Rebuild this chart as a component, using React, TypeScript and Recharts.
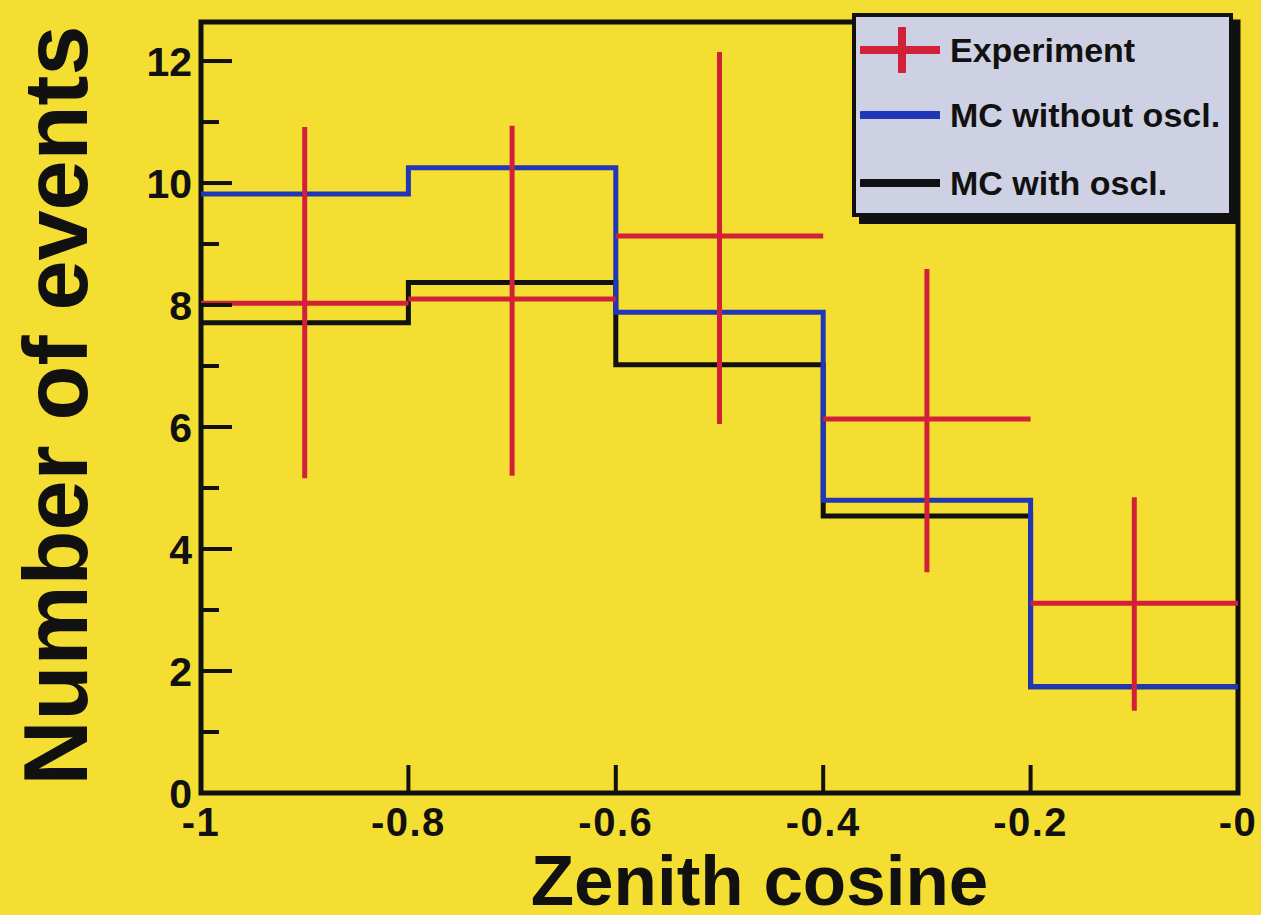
import React from "react"
import {
  ComposedChart,
  Line,
  Scatter,
  ErrorBar,
  XAxis,
  YAxis,
  ReferenceArea,
  Legend,
  Label,
} from "recharts"

// bins in zenith cosine
const binEdges = [-1, -0.8, -0.6, -0.4, -0.2, 0]
const binCenters = [-0.9, -0.7, -0.5, -0.3, -0.1]

// experiment with error ranges
const experiment = [8.03, 8.1, 9.13, 6.13, 3.11]
const expLow = [5.16, 5.2, 6.05, 3.62, 1.35]
const expHigh = [10.92, 10.94, 12.15, 8.59, 4.85]

// Monte Carlo histograms
const mcWithout = [9.82, 10.25, 7.88, 4.8, 1.74]
const mcWith = [7.71, 8.37, 7.02, 4.54, 1.74]

const yTicks = [0, 1, 2, 3, 4, 5, 6, 7, 8, 9, 10, 11, 12]
const xTicks = [-1, -0.8, -0.6, -0.4, -0.2, 0]
const xTickLabels = ["-1", "-0.8", "-0.6", "-0.4", "-0.2", "-0"]
const seriesNames = ["Experiment", "MC without oscl.", "MC with oscl."]

const YMAX = 12.64
const FONT = "'Liberation Sans', Arial, Helvetica, sans-serif"
const YELLOW = "#F5DE32"
const RED = "#D3203A"
const BLUE = "#2236B8"
const BLACK = "#111111"

const stepData = binEdges.map((x, i) => {
  const k = Math.min(i, mcWithout.length - 1)
  return { x, without: mcWithout[k], with: mcWith[k] }
})

const expData = binCenters.map((x, i) => ({
  x,
  y: experiment[i],
  xErr: (binEdges[i + 1] - binEdges[i]) / 2,
  yErr: [experiment[i] - expLow[i], expHigh[i] - experiment[i]],
}))

const YTick = ({ x, y, payload }: any) => {
  const major = payload.value % 2 === 0
  return (
    <g>
      <line x1={x} x2={x + (major ? 31 : 18)} y1={y} y2={y} stroke={BLACK} strokeWidth={4} />
      {major && (
        <text
          x={x - 9}
          y={y}
          dy="0.36em"
          textAnchor="end"
          fontFamily={FONT}
          fontWeight="bold"
          fontSize={41}
          fill={BLACK}
        >
          {payload.value}
        </text>
      )}
    </g>
  )
}

const XTick = ({ x, y, index }: any) => (
  <g>
    <line x1={x} x2={x} y1={y} y2={y - 28} stroke={BLACK} strokeWidth={4} />
    <text
      x={x}
      y={y + 43}
      textAnchor="middle"
      fontFamily={FONT}
      fontWeight="bold"
      fontSize={40}
      letterSpacing={1.5}
      fill={BLACK}
    >
      {xTickLabels[index]}
    </text>
  </g>
)

const LegendBox = () => {
  const rowTop = [37, 102, 170]
  return (
    <div
      style={{
        width: 381,
        height: 204,
        boxSizing: "border-box",
        border: `4px solid ${BLACK}`,
        boxShadow: `7px 7px 0 ${BLACK}`,
        background: "#CED1E3",
        position: "relative",
        fontFamily: FONT,
      }}
    >
      {seriesNames.map((name, i) => (
        <div key={name}>
          <svg
            width={80}
            height={46}
            style={{ position: "absolute", left: 4, top: rowTop[i] - 27 }}
          >
            <line
              x1={2}
              x2={80}
              y1={23}
              y2={23}
              stroke={i === 0 ? RED : i === 1 ? BLUE : BLACK}
              strokeWidth={8}
              strokeLinecap="round"
            />
            {i === 0 && (
              <line x1={42} x2={42} y1={2} y2={44} stroke={RED} strokeWidth={8} strokeLinecap="round" />
            )}
          </svg>
          <div
            style={{
              position: "absolute",
              left: 94,
              top: rowTop[i] - 27,
              lineHeight: "46px",
              fontSize: 34,
              fontWeight: "bold",
              color: BLACK,
              whiteSpace: "nowrap",
            }}
          >
            {name}
          </div>
        </div>
      ))}
    </div>
  )
}

export default function App() {
  return (
    <div style={{ width: 1261, height: 915, background: YELLOW, overflow: "hidden" }}>
      <style>{`body{margin:0;background:${YELLOW};}`}</style>
      <ComposedChart
        width={1261}
        height={915}
        margin={{ top: 22, right: 23, bottom: 0, left: 0 }}
      >
        <XAxis
          dataKey="x"
          type="number"
          domain={[-1, 0]}
          ticks={xTicks}
          interval={0}
          axisLine={false}
          tickLine={false}
          tickSize={0}
          tickMargin={0}
          height={122}
          tick={<XTick />}
        >
          <Label
            content={({ viewBox }: any) => (
              <text
                x={viewBox.x + viewBox.width / 2 + 40}
                y={viewBox.y + 112}
                textAnchor="middle"
                fontFamily={FONT}
                fontWeight="bold"
                fontSize={71}
                fill={BLACK}
              >
                Zenith cosine
              </text>
            )}
          />
        </XAxis>
        <YAxis
          type="number"
          domain={[0, YMAX]}
          ticks={yTicks}
          interval={0}
          allowDecimals
          axisLine={false}
          tickLine={false}
          tickSize={0}
          tickMargin={0}
          width={201}
          tick={<YTick />}
        >
          <Label
            content={({ viewBox }: any) => {
              const cx = 87
              const cy = viewBox.y + viewBox.height / 2 - 2
              return (
                <text
                  x={cx}
                  y={cy}
                  transform={`rotate(-90, ${cx}, ${cy})`}
                  textAnchor="middle"
                  fontFamily={FONT}
                  fontWeight="bold"
                  fontSize={90}
                  fill={BLACK}
                >
                  Number of events
                </text>
              )
            }}
          />
        </YAxis>

        <ReferenceArea
          x1={-1}
          x2={0}
          y1={0}
          y2={YMAX}
          fill="none"
          stroke={BLACK}
          strokeWidth={5}
        />

        <Line
          data={stepData}
          dataKey="with"
          type="stepAfter"
          stroke={BLACK}
          strokeWidth={5}
          dot={false}
          isAnimationActive={false}
        />
        <Line
          data={stepData}
          dataKey="without"
          type="stepAfter"
          stroke={BLUE}
          strokeWidth={5}
          dot={false}
          isAnimationActive={false}
        />
        <Scatter
          data={expData}
          dataKey="y"
          fill={RED}
          shape={() => <g />}
          isAnimationActive={false}
        >
          <ErrorBar dataKey="yErr" direction="y" width={0} stroke={RED} strokeWidth={5} />
          <ErrorBar dataKey="xErr" direction="x" width={0} stroke={RED} strokeWidth={5} />
        </Scatter>

        <Legend
          layout="vertical"
          align="center"
          verticalAlign="middle"
          wrapperStyle={{ left: 852, top: 13, width: 388, height: 211 }}
          content={() => <LegendBox />}
        />
      </ComposedChart>
    </div>
  )
}
